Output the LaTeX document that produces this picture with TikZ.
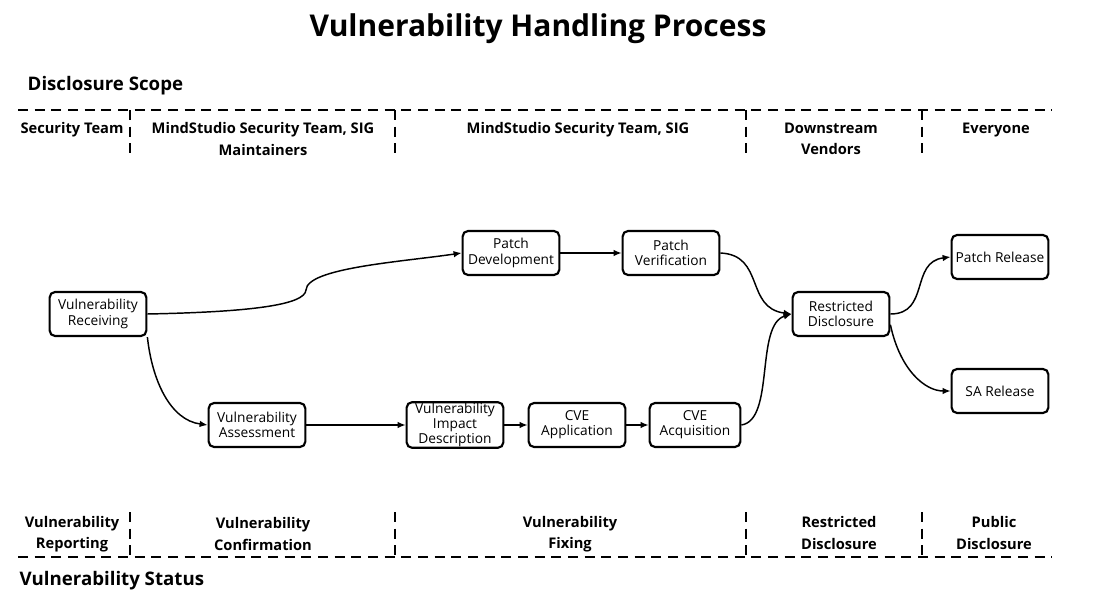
\documentclass[tikz,border=0pt]{standalone}
\usepackage{fontspec}
\setmainfont{Open Sans}
\usetikzlibrary{arrows.meta}
\begin{document}
\begin{tikzpicture}[x=0.75pt,y=-0.75pt,
  box/.style={draw,line width=1.6pt,rounded corners=4pt,minimum width=72.5pt,minimum height=33pt,inner sep=1pt,align=center,font=\fontsize{10.3}{11.5}\selectfont},
  lab/.style={align=center,font=\fontsize{11}{16}\selectfont\bfseries},
  dsh/.style={line width=1.8pt,dash pattern=on 7.5pt off 5pt},
  arr/.style={line width=1.1pt,-{Latex[length=6pt,width=5pt]}}]
\useasboundingbox (0,0) rectangle (1108,606);
\node[font=\fontsize{22.5}{26}\selectfont\bfseries] (title) at (538,29) {Vulnerability Handling Process};
\node[anchor=west,font=\fontsize{14}{16}\selectfont\bfseries] (ds) at (23,86) {Disclosure Scope};
\node[anchor=west,font=\fontsize{14}{16}\selectfont\bfseries] (vs) at (15,581) {Vulnerability Status};
% dashed frames
\draw[dsh] (18,110) -- (1052,110);
\foreach \x in {130,395,746,922} \draw[dsh] (\x,110) -- (\x,157);
\draw[dsh] (18,557) -- (1052,557);
\foreach \x in {130,395,746,922} \draw[dsh] (\x,512) -- (\x,557);
% top labels
\node[lab,anchor=north] (t1) at (72,118) {Security Team};
\node[lab,anchor=north] (t2) at (263,118) {MindStudio Security Team, SIG\\Maintainers};
\node[lab,anchor=north] (t3) at (578,118) {MindStudio Security Team, SIG};
\node[lab,anchor=north] (t4) at (831,118) {Downstream\\Vendors};
\node[lab,anchor=north] (t5) at (996,118) {Everyone};
% bottom labels
\node[lab] (b1) at (72,534) {Vulnerability\\Reporting};
\node[lab] (b2) at (263,534) {Vulnerability\\Confirmation};
\node[lab] (b3) at (570,534) {Vulnerability\\Fixing};
\node[lab] (b4) at (839,533) {Restricted\\Disclosure};
\node[lab] (b5) at (994,533) {Public\\Disclosure};
% nodes
\node[box] (rec) at (98,314) {Vulnerability\\Receiving};
\node[box] (ass) at (257,425) {Vulnerability\\Assessment};
\node[box] (pd) at (511,253) {Patch\\Development};
\node[box] (pv) at (671,253) {Patch\\Verification};
\node[box,font=\fontsize{10.3}{9.6}\selectfont] (imp) at (455,425) {Vulnerability\\Impact\\Description};
\node[box] (cap) at (577,425) {CVE\\Application};
\node[box,minimum width=68pt] (cacq) at (695,425) {CVE\\Acquisition};
\node[box] (rd) at (841,314) {Restricted\\Disclosure};
\node[box] (pr) at (1000,257) {Patch Release};
\node[box] (sa) at (1000,391) {SA Release};
% edges
\draw[arr] (rec.east) .. controls (250,312) and (305,305) .. (306,290) .. controls (307,268) and (400,262) .. (pd.west);
\draw[arr] (rec.south east) .. controls (152,380) and (170,420) .. (ass.west);
\draw[arr] (ass.east) -- (imp.west);
\draw[arr] (imp.east) -- (cap.west);
\draw[arr] (cap.east) -- (cacq.west);
\draw[arr] (pd.east) -- (pv.west);
\draw[arr] (pv.east) .. controls (765,255) and (745,308) .. (rd.west);
\draw[arr] (cacq.east) .. controls (775,420) and (755,325) .. (rd.west);
\draw[arr] (rd.east) .. controls (930,314) and (910,262) .. (pr.west);
\draw[arr] ([yshift=-8pt]rd.east) .. controls (900,370) and (925,391) .. (sa.west);
\end{tikzpicture}
\end{document}
